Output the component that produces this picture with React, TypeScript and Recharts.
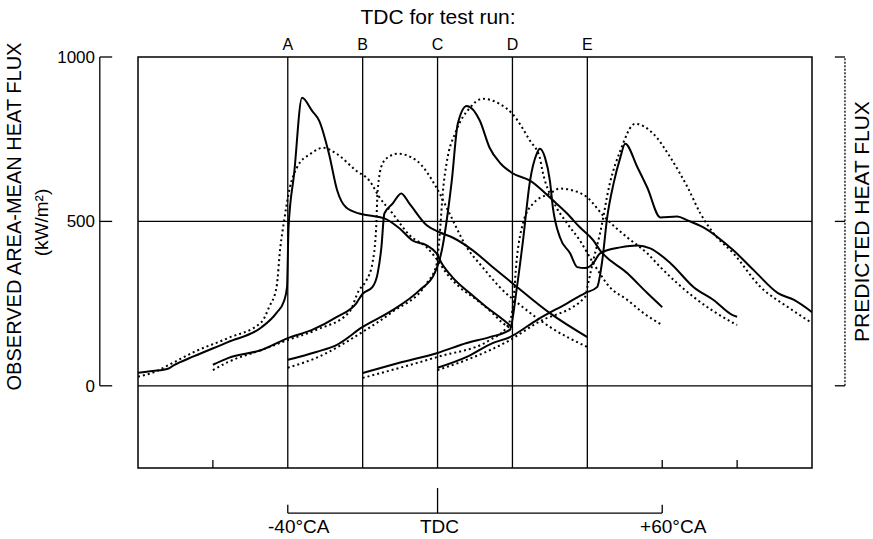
import { LineChart, Line, XAxis, YAxis, ReferenceLine, ReferenceArea, Label, Text } from 'recharts';

type Pt = [number, number];

// crank-angle position of TDC for each test run (common x scale, deg)
const runLetters = ['A', 'B', 'C', 'D', 'E'];
const runTdc = [-40, -20, 0, 20, 40];
const scaleTicks = [-40, 0, 60];
const fluxTicks = [0, 500, 1000];

// [crank angle, heat flux kW/m2]
const runAObserved: Pt[] = [
  [-80, 40], [-76, 45], [-72, 52], [-70.5, 62], [-65, 90], [-56, 133], [-47, 178], [-43, 222],
  [-41, 258], [-40.2, 300], [-39.8, 480], [-38.3, 645], [-36.2, 876], [-33.5, 836], [-31.6, 806],
  [-29, 706], [-26.8, 594], [-24.4, 542], [-20.9, 524], [-18.2, 518], [-14.2, 509], [-10.2, 479],
  [-6.7, 442], [-2.9, 427], [-0.3, 403], [1.1, 373], [4, 330], [8.6, 282], [13.1, 239], [16.6, 209],
  [20, 178],
];
const runAPredicted: Pt[] = [
  [-80, 28], [-76, 40], [-71, 68], [-65, 103], [-56, 145], [-47, 194], [-45, 239], [-43, 300],
  [-42, 420], [-41, 500], [-39.5, 600], [-37.5, 665], [-34, 705], [-30.5, 724], [-27, 706],
  [-21.7, 654], [-18.2, 624], [-15.5, 573], [-12, 524], [-7.5, 458], [-2.9, 421], [0, 382],
  [2.4, 342], [5.9, 300], [10.5, 261], [14.7, 221], [17.4, 191], [20, 172],
];
const runBObserved: Pt[] = [
  [-60, 64], [-55.8, 85], [-47, 109], [-40, 145], [-33.5, 170], [-27, 209], [-21.7, 251], [-20, 280],
  [-17.4, 300], [-16, 342], [-15, 421], [-14.2, 524], [-12, 554], [-9.7, 585], [-7.5, 554],
  [-2.9, 488], [0.5, 467], [4, 451], [9.4, 412], [14.7, 361], [20, 312], [30, 221], [40, 148],
];
const runBPredicted: Pt[] = [
  [-60, 48], [-55.8, 73], [-47, 109], [-40, 139], [-32.4, 170], [-23.6, 224], [-21, 290],
  [-19, 321], [-17.4, 373], [-16.4, 480], [-16, 594], [-14.7, 676], [-12.5, 700], [-10.7, 706],
  [-5.6, 685], [-0.3, 603], [3.2, 524], [7.8, 421], [12, 361], [16.6, 300], [22.8, 239], [30, 179],
  [40, 118],
];
const runCObserved: Pt[] = [
  [-40, 79], [-32.4, 103], [-27, 124], [-20, 179], [-12, 230], [-4.8, 291], [-0.8, 342], [0.5, 382],
  [1.3, 421], [2.7, 524], [3.8, 624], [5.4, 797], [7.8, 851], [11.3, 806], [13.9, 724], [16.6, 679],
  [19.8, 648], [24.7, 624], [30.8, 564], [34.6, 524], [38, 482], [41.6, 442], [43.4, 412],
  [50.7, 342], [56, 282], [60, 239],
];
const runCPredicted: Pt[] = [
  [-40, 55], [-32.4, 85], [-20, 164], [-12, 225], [-2.9, 312], [-0.3, 367], [0.5, 450], [1.5, 600],
  [2.4, 676], [5, 776], [8.6, 845], [12, 873], [16.6, 857], [20, 827], [24.7, 745], [27.3, 694],
  [28, 654], [30.8, 564], [34.6, 494], [38, 442], [41.6, 373], [46, 300], [50.7, 261], [55, 221],
  [60, 185],
];
const runDObserved: Pt[] = [
  [-20, 39], [-10.2, 70], [0, 100], [7.8, 130], [13.9, 148], [19.3, 170], [21.2, 300], [22.8, 440],
  [24.7, 624], [26.5, 706], [27.3, 721], [28.7, 694], [30, 624], [30.8, 542], [32.7, 451],
  [35.4, 403], [37.3, 361], [39.4, 358], [41.6, 373], [43.4, 403], [48.8, 421], [53.4, 427],
  [56.8, 418], [62.2, 373], [68.4, 300], [73.7, 261], [78.8, 215], [80, 210],
];
const runDPredicted: Pt[] = [
  [-20, 24], [0, 88], [13.9, 139], [18.5, 179], [20, 230], [21.2, 391], [22.8, 494], [25.5, 554],
  [30, 585], [32.7, 600], [36.2, 594], [40, 573], [44.2, 518], [50.7, 451], [56, 403], [59.5, 361],
  [68.4, 270], [79, 191], [80, 185],
];
const runEObserved: Pt[] = [
  [0, 55], [7.8, 88], [14.7, 130], [19.3, 148], [26.5, 200], [34.6, 251], [39.4, 282], [42.6, 300],
  [44, 382], [45.3, 512], [47, 615], [48.8, 694], [50.1, 736], [53.4, 664], [56, 603], [59.5, 512],
  [64, 515], [66.8, 503], [71, 482], [79, 412], [84.5, 351], [90.9, 282], [95.2, 261], [100, 224],
];
const runEPredicted: Pt[] = [
  [0, 48], [7.8, 79], [19.3, 139], [26.5, 191], [39.4, 270], [40, 300], [41.6, 382], [43.4, 464],
  [46, 615], [48.8, 715], [52.8, 797], [57.6, 767], [62.2, 694], [66.8, 603], [70.2, 524],
  [73.7, 464], [79, 403], [86.3, 300], [93.6, 239], [100, 191],
];

const observed = [runAObserved, runBObserved, runCObserved, runDObserved, runEObserved];
const predicted = [runAPredicted, runBPredicted, runCPredicted, runDPredicted, runEPredicted];

const toPoints = (pts: Pt[]) => pts.map(([x, y]) => ({ x, y }));

const tdcLabel = (v: number) => (v === 0 ? 'TDC' : v < 0 ? `${v}°CA` : `+${v}°CA`);

// bracket geometry, in data units
const leftBracketX = -90.2;
const leftTickEnd = -86.9;
const rightBracketX = 108.8;
const rightTickEnd = 106.1;
const scaleBarY = -387;
const scaleTickY = -362;
const scaleTdcY = -311;
const innerTickY = -226;

function seg(key: string, x1: number, y1: number, x2: number, y2: number, dash?: string) {
  return (
    <ReferenceLine
      key={key}
      segment={[{ x: x1, y: y1 }, { x: x2, y: y2 }]}
      ifOverflow="visible"
      stroke="#000"
      strokeWidth={1.3}
      strokeDasharray={dash}
    />
  );
}

// the degree labels sit a little right of their bracket ticks in the original
function ScaleTick(props: any) {
  const { x, y, payload } = props;
  const shift = payload.value === 0 ? 2 : 11;
  return (
    <Text x={x + shift} y={y} textAnchor="middle" verticalAnchor="start" fill="#000" fontSize={19}>
      {tdcLabel(payload.value)}
    </Text>
  );
}

export default function App() {
  return (
    <div
      style={{
        position: 'absolute',
        left: 0,
        top: 0,
        width: 873,
        height: 539,
        background: '#fff',
        fontFamily: '"Liberation Sans", Arial, sans-serif',
      }}
    >
      <LineChart width={873} height={539} margin={{ top: 0, right: 0, bottom: 0, left: 0 }}>
        <XAxis
          type="number"
          dataKey="x"
          domain={[-80, 100]}
          allowDataOverflow
          height={71}
          ticks={scaleTicks}
          interval={0}
          tickLine={false}
          axisLine={false}
          tickSize={0}
          tickMargin={52}
          tick={<ScaleTick />}
        />
        <XAxis
          xAxisId="top"
          orientation="top"
          type="number"
          domain={[-80, 100]}
          allowDataOverflow
          height={57}
          tick={false}
          tickLine={false}
          axisLine={false}
        >
          <Label value="TDC for test run:" position="insideTop" offset={9} dx={-37} fill="#000" fontSize={21} />
        </XAxis>
        <YAxis
          type="number"
          domain={[-250, 1000]}
          allowDataOverflow
          width={138}
          ticks={fluxTicks}
          interval={0}
          tickLine={false}
          axisLine={false}
          tickSize={0}
          tickMargin={43}
          tick={{ fill: '#000', fontSize: 17 }}
        >
          <Label
            value="OBSERVED AREA-MEAN HEAT FLUX"
            angle={-90}
            position="center"
            dx={-55}
            dy={-46}
            fill="#000"
            fontSize={20}
          />
          <Label value="(kW/m²)" angle={-90} position="center" dx={-28} dy={-40} fill="#000" fontSize={19} />
        </YAxis>
        <YAxis
          yAxisId="right"
          orientation="right"
          type="number"
          domain={[-250, 1000]}
          width={61}
          tick={false}
          tickLine={false}
          axisLine={false}
        >
          <Label
            value="PREDICTED HEAT FLUX"
            angle={-90}
            position="center"
            dx={19}
            dy={-41}
            fill="#000"
            fontSize={21}
          />
        </YAxis>

        <ReferenceArea x1={-80} x2={100} y1={-250} y2={1000} fill="none" stroke="#000" strokeWidth={1.5} fillOpacity={0} />
        {runTdc.map((v, i) => (
          <ReferenceLine
            key={`tdc${v}`}
            x={v}
            stroke="#000"
            strokeWidth={1.3}
            label={{ value: runLetters[i], position: 'top', offset: 7, fill: '#000', fontSize: 16 }}
          />
        ))}
        <ReferenceLine y={500} stroke="#000" strokeWidth={1.3} />
        <ReferenceLine y={0} stroke="#000" strokeWidth={1.3} />

        {/* small ticks on the inside of the bottom frame */}
        {[-60, 60, 80].map((v) => seg(`it${v}`, v, -250, v, innerTickY))}

        {/* observed scale bracket on the left */}
        {seg('lb', leftBracketX, 0, leftBracketX, 1000)}
        {fluxTicks.map((v) => seg(`lt${v}`, leftBracketX, v, leftTickEnd, v))}

        {/* predicted scale bracket on the right */}
        {seg('rb', rightBracketX, 0, rightBracketX, 1000, '2 1.5')}
        {fluxTicks.map((v) => seg(`rt${v}`, rightTickEnd, v, rightBracketX, v))}

        {/* crank angle scale below */}
        {seg('sb', -40, scaleBarY, 60, scaleBarY)}
        {seg('sl', -40, scaleBarY, -40, scaleTickY)}
        {seg('sr', 60, scaleBarY, 60, scaleTickY)}
        {seg('sc', 0, scaleBarY, 0, scaleTdcY)}

        {predicted.map((run, i) => (
          <Line
            key={`p${i}`}
            data={toPoints(run)}
            dataKey="y"
            type="monotone"
            stroke="#000"
            strokeWidth={2}
            strokeDasharray="2 3"
            dot={false}
            activeDot={false}
            isAnimationActive={false}
          />
        ))}
        {observed.map((run, i) => (
          <Line
            key={`o${i}`}
            data={toPoints(run)}
            dataKey="y"
            type="monotone"
            stroke="#000"
            strokeWidth={2}
            dot={false}
            activeDot={false}
            isAnimationActive={false}
          />
        ))}
      </LineChart>
    </div>
  );
}
